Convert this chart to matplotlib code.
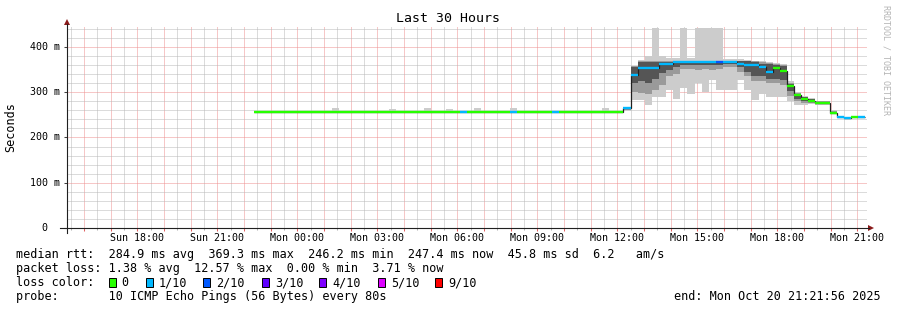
import numpy as np
import pandas as pd
import matplotlib
matplotlib.use("Agg")
import matplotlib.pyplot as plt
from matplotlib.lines import Line2D
from matplotlib.patches import Rectangle, Polygon

plt.rcParams['font.family'] = ['DejaVu Sans Mono']

W, H = 897, 310

day0 = pd.Timestamp("2025-10-19 00:00")
view_start = pd.Timestamp("2025-10-19 15:21:56")
view_end = pd.Timestamp("2025-10-20 21:21:56")
first_bin = pd.Timestamp("2025-10-19 22:22")
bin_minutes = 16

# quiet part, Sun 22:22 .. Mon 12:14 (median rtt in ms, lost pings out of 10, top of smoke)
flat_median = [256, 256, 256, 256, 256, 256, 256, 256, 256, 256, 256, 256, 256,
               256, 256, 256, 256, 256, 256, 256, 256, 256, 256, 256, 256, 256,
               256, 256, 256, 256, 256, 256, 256, 256, 256, 256, 256, 256, 256,
               256, 256, 256, 256, 256, 256, 256, 256, 256, 256, 256, 256, 256]
flat_loss = [0, 0, 0, 0, 0, 0, 0, 0, 0, 0, 0, 0, 0,
             0, 0, 0, 0, 0, 0, 0, 0, 0, 0, 0, 0, 0,
             0, 0, 0, 1, 0, 0, 0, 0, 0, 0, 1, 0, 0,
             0, 0, 0, 1, 0, 0, 0, 0, 0, 0, 0, 0, 0]
flat_top = [257, 257, 257, 257, 257, 259.5, 257, 257, 259.5, 257, 257, 264, 259.5,
            259.5, 257, 257, 257, 257, 257, 262, 257, 259.5, 259.5, 257, 264, 259.5,
            257, 262, 257, 257, 257, 264, 257, 257, 257, 257, 264, 259.5, 257,
            257, 259.5, 257, 257, 257, 259.5, 257, 259.5, 257, 257, 264, 259.5, 257]
flat_bottom = 254

# busy part from Mon 12:14
busy_median = [265, 339, 353, 353, 353, 362, 362, 366, 366, 366, 366, 366, 366, 366, 366, 366, 363,
               361, 360, 355, 344, 353, 346, 314, 293, 286, 281, 276, 276, 255, 245, 244, 245, 245]
busy_loss = [1, 1, 1, 1, 1, 1, 1, 1, 1, 1, 1, 1, 1, 2, 1, 1, 1,
             1, 1, 1, 1, 0, 0, 0, 0, 0, 0, 0, 0, 0, 1, 1, 0, 1]
light_lo = [258, 283, 283, 272, 290, 290, 305, 285, 310, 297, 320, 300, 327, 305, 305, 305, 327,
            305, 283, 297, 290, 290, 290, 281, 271, 272, 274, 271, 271, 252, 243, 242, 243, 243]
light_hi = [268, 358, 372, 379, 441, 379, 376, 376, 441, 376, 441, 441, 441, 441, 374, 374, 373,
            371, 370, 368, 366, 365, 363, 324, 300, 292, 287, 281, 281, 260, 247, 246, 247, 247]
mid_lo = [260, 300, 298, 295, 305, 315, 335, 340, 352, 352, 350, 352, 350, 352, 355, 355, 345,
          335, 325, 325, 320, 320, 315, 292, 280, 277, 276, 273, 273, 253, 244, 243, 244, 244]
mid_hi = [267, 357, 368, 368, 368, 368, 368, 368, 370, 370, 370, 370, 370, 370, 370, 370, 370,
          369, 368, 366, 364, 363, 360, 320, 298, 290, 285, 280, 280, 258, 246, 245, 246, 246]
dark_lo = [262, 320, 325, 320, 330, 342, 350, 355, 360, 360, 360, 360, 360, 360, 362, 362, 355,
           345, 335, 335, 330, 330, 328, 302, 285, 281, 278, 274, 274, 254, 244, 243, 244, 244]
dark_hi = [266, 356, 367, 367, 367, 367, 367, 367, 369, 369, 369, 369, 369, 369, 369, 369, 369,
           368, 366, 363, 362, 360, 357, 318, 296, 289, 284, 279, 279, 257, 246, 245, 246, 246]

loss_colors = ['#26ff00', '#00b8ff', '#0059ff', '#5e00ff', '#7e00ff', '#dd00ff', '#ff0000']
loss_names = ['0', '1/10', '2/10', '3/10', '4/10', '5/10', '9/10']
loss_level = [0, 1, 2, 3, 4, 5, 9]

median = np.array(flat_median + busy_median, dtype=float)
loss = np.array(flat_loss + busy_loss)
starts = pd.date_range(first_bin, periods=len(median) + 1, freq=f"{bin_minutes}min")
edges = ((starts - day0) / pd.Timedelta(hours=1)).to_numpy()
nf = len(flat_median)
x0 = (view_start - day0) / pd.Timedelta(hours=1)
x1 = (view_end - day0) / pd.Timedelta(hours=1)

fig = plt.figure(figsize=(W / 100, H / 100), dpi=100)
fig.patch.set_facecolor('white')
ax = fig.add_axes([67 / W, 82 / H, 800 / W, 201 / H])
ax.set_xlim(x0, x1)
ax.set_ylim(0, 444)
for s in ax.spines.values():
    s.set_visible(False)

# grid
ax.set_xticks(np.arange(16, 46, 1))
ax.set_xticks(np.arange(15.5, 45.5, 1), minor=True)
ax.set_yticks(np.arange(0, 401, 100))
ax.set_yticks(np.arange(20, 441, 20), minor=True)
ax.grid(which='major', color='#ee9090', ls=(0, (1, 1)), lw=0.72, snap=True)
ax.grid(which='minor', color='#b8b8b8', ls=(0, (1, 1)), lw=0.72, snap=True)
ax.set_axisbelow(True)
ax.tick_params(which='both', labelbottom=False, labelleft=False)
ax.tick_params(axis='x', which='major', length=2, width=0.75, color='#e06060', direction='out')
ax.tick_params(axis='x', which='minor', length=1.5, width=0.75, color='#b0b0b0', direction='out')
ax.tick_params(axis='y', which='major', length=2, width=0.75, color='#404040', direction='out')
ax.tick_params(axis='y', which='minor', length=0)

# smoke
ax.stairs(flat_top, edges[:nf + 1], baseline=flat_bottom, fill=True, color='#cccccc', lw=0)
be = edges[nf:]
ax.stairs(light_hi, be, baseline=light_lo, fill=True, color='#cccccc', lw=0)
ax.stairs(mid_hi, be, baseline=mid_lo, fill=True, color='#9a9a9a', lw=0)
ax.stairs(dark_hi, be, baseline=dark_lo, fill=True, color='#555555', lw=0)

# median line and loss colours
ax.stairs(median, edges, baseline=None, color='#202020', lw=0.9)
for lvl, c in zip(loss_level, loss_colors):
    m = loss == lvl
    if m.any():
        ax.hlines(median[m], edges[:-1][m], edges[1:][m], colors=c, lw=1.7)

# axis labels
for h in range(18, 46, 3):
    day = 'Sun' if h < 24 else 'Mon'
    ax.annotate(f"{day} {h % 24:02d}:00", xy=(h, 0), xycoords=('data', 'axes fraction'),
                xytext=(0, -10), textcoords='offset pixels', ha='center', va='center', fontsize=7.2)
for v in range(0, 401, 100):
    lab = f"{v} m" if v else "0"
    off = -7 if v else -20
    ax.annotate(lab, xy=(0, v), xycoords=('axes fraction', 'data'),
                xytext=(off, 0), textcoords='offset pixels', ha='right', va='center', fontsize=7.2)


def px(x, y):
    return (x / W, 1 - y / H)


# axes with arrows
fig.add_artist(Line2D([60 / W, 869 / W], [1 - 228 / H] * 2, color='#202020', lw=0.8))
fig.add_artist(Line2D([67 / W] * 2, [1 - 233 / H, 1 - 24 / H], color='#202020', lw=0.8))
fig.add_artist(Polygon([px(868, 225), px(868, 231), px(874, 228)], closed=True, color='#8b1a1a', lw=0))
fig.add_artist(Polygon([px(64, 25), px(70, 25), px(67, 19)], closed=True, color='#8b1a1a', lw=0))

fig.text(*px(448, 19), "Last 30 Hours", ha='center', va='center', fontsize=9.5)
fig.text(*px(11, 127), "Seconds", ha='center', va='center', rotation=90, fontsize=8.5)
fig.text(*px(886, 60), "RRDTOOL / TOBI OETIKER", ha='center', va='center', rotation=-90,
         fontsize=6, color='#b4b4b4')

# legend
fs = 8.5
fig.text(*px(16, 258), "median rtt:  284.9 ms avg  369.3 ms max  246.2 ms min  247.4 ms now  45.8 ms sd  6.2   am/s",
         ha='left', va='baseline', fontsize=fs)
fig.text(*px(16, 272), "packet loss: 1.38 % avg  12.57 % max  0.00 % min  3.71 % now",
         ha='left', va='baseline', fontsize=fs)
fig.text(*px(16, 286), "loss color:", ha='left', va='baseline', fontsize=fs)
box_x = [108.7, 145.7, 203.3, 261.7, 319.3, 377.7, 435]
for bx, c, name in zip(box_x, loss_colors, loss_names):
    fig.add_artist(Rectangle(px(bx, 286.5), 7 / W, 9 / H, facecolor=c, edgecolor='black', lw=0.7))
    fig.text(*px(bx + 13, 286), name, ha='left', va='baseline', fontsize=fs)
fig.text(*px(16, 300), "probe:       10 ICMP Echo Pings (56 Bytes) every 80s",
         ha='left', va='baseline', fontsize=fs)
fig.text(*px(881, 300), "end: Mon Oct 20 21:21:56 2025", ha='right', va='baseline', fontsize=fs)

fig.savefig("out.png", dpi=100, facecolor='white')
